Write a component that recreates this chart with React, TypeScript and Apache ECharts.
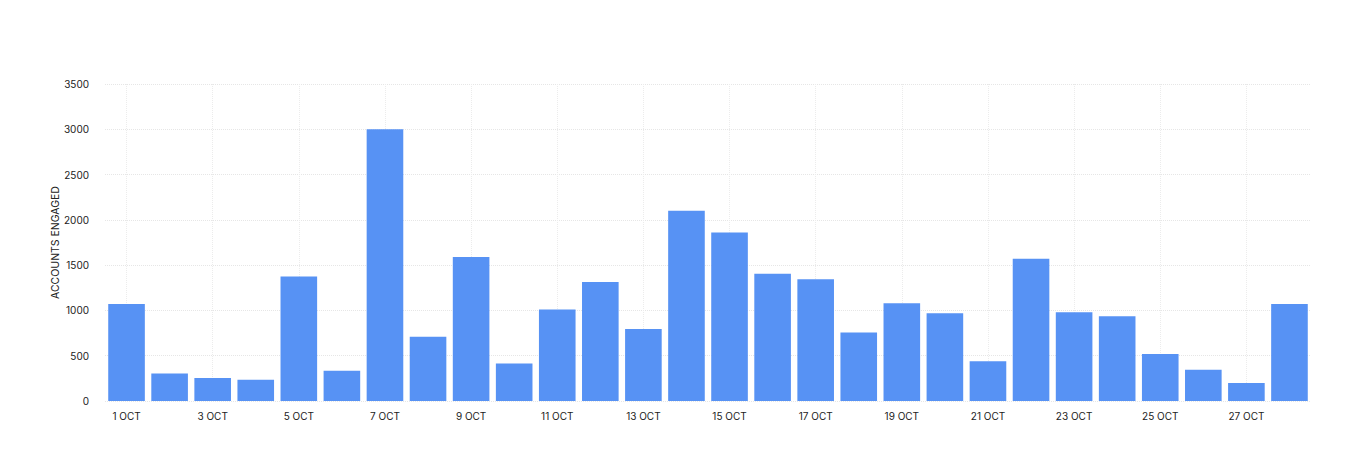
import { useEffect, useRef } from 'react'
import * as echarts from 'echarts'

const days = [
  '1 OCT', '2 OCT', '3 OCT', '4 OCT', '5 OCT', '6 OCT', '7 OCT', '8 OCT', '9 OCT', '10 OCT',
  '11 OCT', '12 OCT', '13 OCT', '14 OCT', '15 OCT', '16 OCT', '17 OCT', '18 OCT', '19 OCT', '20 OCT',
  '21 OCT', '22 OCT', '23 OCT', '24 OCT', '25 OCT', '26 OCT', '27 OCT', '28 OCT'
]

const accountsEngaged = [
  1070, 305, 255, 235, 1375, 335, 3000, 710, 1590, 415,
  1010, 1315, 795, 2100, 1860, 1405, 1345, 755, 1080, 970,
  440, 1570, 980, 935, 520, 345, 200, 1070
]

const yMax = 3500
const yStep = 500

export default function App(): JSX.Element {
  const chartRef = useRef<HTMLDivElement>(null)

  useEffect(() => {
    if (!chartRef.current) return
    document.body.style.margin = '0'

    const chart = echarts.init(chartRef.current, undefined, { renderer: 'svg' })

    const font = 'Inter, "Noto Sans", sans-serif'

    const option: echarts.EChartsOption = {
      animation: false,
      backgroundColor: '#ffffff',
      grid: {
        left: 105,
        right: 41,
        top: 84,
        bottom: 61
      },
      xAxis: {
        type: 'category',
        data: days,
        axisLine: { show: false },
        axisTick: { show: false },
        axisLabel: {
          interval: 1,
          color: '#222222',
          fontSize: 10,
          fontFamily: font,
          margin: 10
        },
        splitLine: {
          show: true,
          interval: 1,
          // @ts-ignore
          alignWithLabel: true,
          lineStyle: { color: '#ececec', type: 'dotted', width: 1 }
        }
      },
      yAxis: {
        type: 'value',
        min: 0,
        max: yMax,
        interval: yStep,
        name: 'ACCOUNTS ENGAGED',
        nameLocation: 'middle',
        nameGap: 44,
        // @ts-ignore
        nameMoveOverlap: false,
        nameRotate: 90,
        nameTextStyle: {
          color: '#222222',
          fontSize: 10.5,
          fontFamily: font
        },
        axisLine: { show: false },
        axisTick: { show: false },
        axisLabel: {
          color: '#222222',
          fontSize: 10,
          fontFamily: font,
          margin: 16,
          formatter: (v: number) => String(v)
        },
        splitLine: {
          lineStyle: { color: '#e6e6e6', type: 'dotted', width: 1 }
        }
      },
      series: [
        {
          name: 'Accounts engaged',
          type: 'bar',
          data: accountsEngaged,
          barCategoryGap: '15%',
          itemStyle: { color: '#5792f4' }
        }
      ]
    }

    chart.setOption(option)

    return () => {
      chart.dispose()
    }
  }, [])

  return <div ref={chartRef} style={{ width: 1352, height: 462 }} />
}
